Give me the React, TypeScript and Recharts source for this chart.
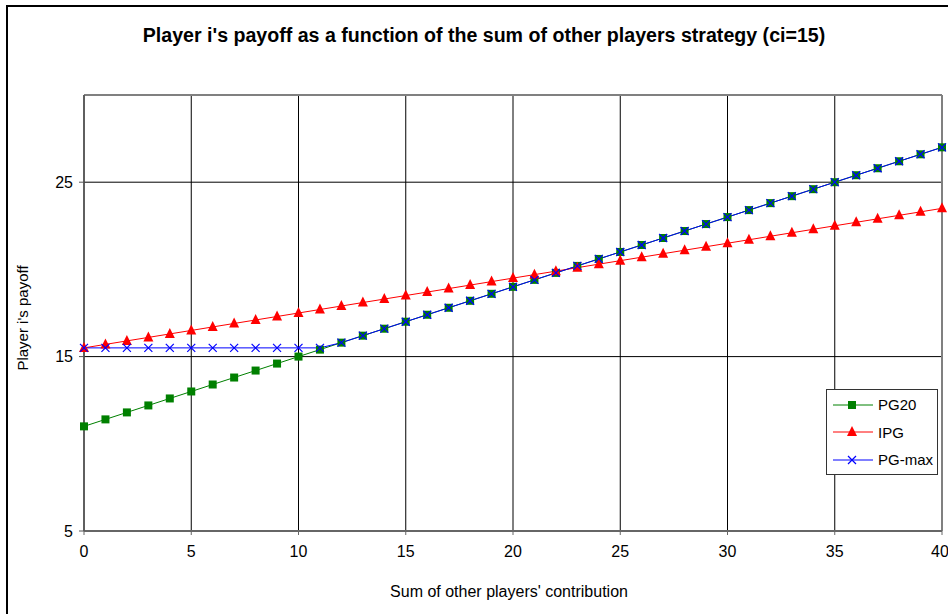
import React from 'react';
import {
  LineChart,
  Line,
  XAxis,
  YAxis,
  CartesianGrid,
  ReferenceLine,
} from 'recharts';

const SUM_OTHERS = [
  0, 1, 2, 3, 4, 5, 6, 7, 8, 9, 10, 11, 12, 13, 14, 15, 16, 17, 18, 19, 20,
  21, 22, 23, 24, 25, 26, 27, 28, 29, 30, 31, 32, 33, 34, 35, 36, 37, 38, 39, 40,
];

const PG20 = [
  11, 11.4, 11.8, 12.2, 12.6, 13, 13.4, 13.8, 14.2, 14.6, 15, 15.4, 15.8, 16.2,
  16.6, 17, 17.4, 17.8, 18.2, 18.6, 19, 19.4, 19.8, 20.2, 20.6, 21, 21.4, 21.8,
  22.2, 22.6, 23, 23.4, 23.8, 24.2, 24.6, 25, 25.4, 25.8, 26.2, 26.6, 27,
];

const IPG = [
  15.5, 15.7, 15.9, 16.1, 16.3, 16.5, 16.7, 16.9, 17.1, 17.3, 17.5, 17.7, 17.9,
  18.1, 18.3, 18.5, 18.7, 18.9, 19.1, 19.3, 19.5, 19.7, 19.9, 20.1, 20.3, 20.5,
  20.7, 20.9, 21.1, 21.3, 21.5, 21.7, 21.9, 22.1, 22.3, 22.5, 22.7, 22.9, 23.1,
  23.3, 23.5,
];

const PG_MAX = [
  15.5, 15.5, 15.5, 15.5, 15.5, 15.5, 15.5, 15.5, 15.5, 15.5, 15.5, 15.5, 15.8,
  16.2, 16.6, 17, 17.4, 17.8, 18.2, 18.6, 19, 19.4, 19.8, 20.2, 20.6, 21, 21.4,
  21.8, 22.2, 22.6, 23, 23.4, 23.8, 24.2, 24.6, 25, 25.4, 25.8, 26.2, 26.6, 27,
];

const X_TICKS = [0, 5, 10, 15, 20, 25, 30, 35, 40];
const Y_TICKS = [5, 15, 25];

const FONT = '"Liberation Sans", Arial, sans-serif';

const GREEN = '#008000';
const RED = '#ff0000';
const BLUE = '#0000ff';

const chartData = SUM_OTHERS.map((x, i) => ({
  x,
  pg20: PG20[i],
  ipg: IPG[i],
  pgmax: PG_MAX[i],
}));

function SquareDot(props: any) {
  const { cx, cy, index } = props;
  if (cx == null || cy == null) return null;
  return <rect key={`sq-${index}`} x={cx - 4} y={cy - 4} width={8} height={8} fill={GREEN} />;
}

function TriangleDot(props: any) {
  const { cx, cy, index } = props;
  if (cx == null || cy == null) return null;
  return (
    <polygon
      key={`tr-${index}`}
      points={`${cx},${cy - 6} ${cx + 5},${cy + 4} ${cx - 5},${cy + 4}`}
      fill={RED}
    />
  );
}

function CrossDot(props: any) {
  const { cx, cy, index } = props;
  if (cx == null || cy == null) return null;
  return (
    <path
      key={`x-${index}`}
      d={`M${cx - 4},${cy - 4}L${cx + 4},${cy + 4}M${cx - 4},${cy + 4}L${cx + 4},${cy - 4}`}
      stroke={BLUE}
      strokeWidth={1.2}
      fill="none"
    />
  );
}

const LEGEND_ITEMS = [
  { label: 'PG20', color: GREEN, Dot: SquareDot },
  { label: 'IPG', color: RED, Dot: TriangleDot },
  { label: 'PG-max', color: BLUE, Dot: CrossDot },
];

function ChartLegend() {
  return (
    <div
      style={{
        position: 'absolute',
        left: 826,
        top: 389,
        width: 110,
        height: 83,
        border: '1px solid #333',
        background: '#fff',
        fontFamily: FONT,
        fontSize: 15,
        color: '#000',
        paddingTop: 1,
      }}
    >
      {LEGEND_ITEMS.map((it) => (
        <div key={it.label} style={{ display: 'flex', alignItems: 'center', height: 27.5 }}>
          <svg width={50} height={14} style={{ marginLeft: 5 }}>
            <line x1={1} y1={7} x2={41} y2={7} stroke={it.color} strokeWidth={1} />
            <it.Dot cx={20} cy={7} index={0} />
          </svg>
          <span style={{ marginLeft: -4 }}>{it.label}</span>
        </div>
      ))}
    </div>
  );
}

export default function App() {
  return (
    <div
      style={{
        position: 'absolute',
        left: 0,
        top: 0,
        width: 948,
        height: 614,
        overflow: 'hidden',
        background: '#fff',
        fontFamily: FONT,
      }}
    >
      <div
        style={{
          position: 'absolute',
          left: 6,
          top: 5,
          width: 960,
          height: 640,
          border: '2px solid #000',
        }}
      />
      <div
        style={{
          position: 'absolute',
          left: 484,
          top: 35,
          transform: 'translate(-50%, -50%)',
          whiteSpace: 'nowrap',
          fontWeight: 'bold',
          fontSize: 19.6,
        }}
      >
        Player i's payoff as a function of the sum of other players strategy (ci=15)
      </div>
      <div
        style={{
          position: 'absolute',
          left: 22,
          top: 318,
          transform: 'translate(-50%, -50%) rotate(-90deg)',
          whiteSpace: 'nowrap',
          fontSize: 15,
        }}
      >
        Player i's payoff
      </div>
      <div
        style={{
          position: 'absolute',
          left: 509,
          top: 592,
          transform: 'translate(-50%, -50%)',
          whiteSpace: 'nowrap',
          fontSize: 16,
        }}
      >
        Sum of other players' contribution
      </div>
      <div style={{ position: 'absolute', left: 0, top: 0 }}>
        <LineChart
          width={948}
          height={614}
          data={chartData}
          margin={{ top: 95, right: 6, left: 0, bottom: 0 }}
        >
          <CartesianGrid stroke="#000" strokeWidth={1} />
          <XAxis
            dataKey="x"
            type="number"
            domain={[0, 40]}
            ticks={X_TICKS}
            height={83}
            tickSize={4}
            tickMargin={11}
            tick={{ fill: '#000', fontSize: 16, fontFamily: FONT }}
            axisLine={{ stroke: '#666', strokeWidth: 2 }}
            tickLine={{ stroke: '#666' }}
          />
          <YAxis
            type="number"
            domain={[5, 30]}
            ticks={Y_TICKS}
            width={84}
            tickSize={5}
            tickMargin={6}
            tick={{ fill: '#000', fontSize: 16, fontFamily: FONT }}
            axisLine={{ stroke: '#555', strokeWidth: 1.5 }}
            tickLine={{ stroke: '#555' }}
          />
          <ReferenceLine y={30} stroke="#808080" strokeWidth={2} />
          <ReferenceLine x={40} stroke="#808080" strokeWidth={2} />
          <Line
            dataKey="pg20"
            name="PG20"
            stroke={GREEN}
            strokeWidth={1}
            dot={SquareDot}
            activeDot={false}
            isAnimationActive={false}
          />
          <Line
            dataKey="ipg"
            name="IPG"
            stroke={RED}
            strokeWidth={1}
            dot={TriangleDot}
            activeDot={false}
            isAnimationActive={false}
          />
          <Line
            dataKey="pgmax"
            name="PG-max"
            stroke={BLUE}
            strokeWidth={1}
            dot={CrossDot}
            activeDot={false}
            isAnimationActive={false}
          />
        </LineChart>
      </div>
      <ChartLegend />
    </div>
  );
}
